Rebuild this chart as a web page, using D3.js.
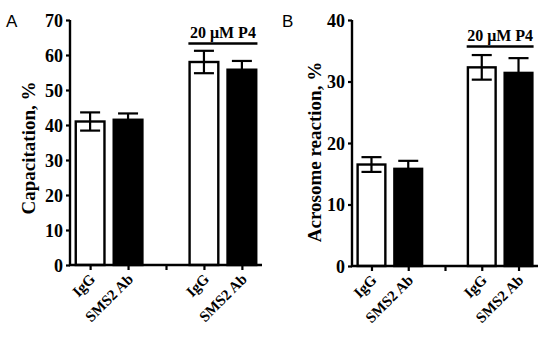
<!DOCTYPE html>
<html>
<head>
<meta charset="utf-8">
<script src="https://cdn.jsdelivr.net/npm/d3@7"></script>
<style>
  body { margin: 0; background: #fff; }
  svg text { font-family: "Liberation Serif", "Times New Roman", serif; font-weight: bold; fill: #000; }
</style>
</head>
<body>
<svg id="chart" width="550" height="340"></svg>
<script>
// data
var categories = ["IgG", "SMS2 Ab", "IgG", "SMS2 Ab"];
var slots = ["c0", "c1", "gap", "c2", "c3"];   // middle tick is the blank gap
var barFill = ["#fff", "#000", "#fff", "#000"];
var capacitation = [41.0, 41.5, 58.0, 55.8];
var capacitationErr = [2.6, 1.8, 3.2, 2.5];
var acrosome = [16.5, 15.8, 32.3, 31.4];
var acrosomeErr = [1.2, 1.3, 2.0, 2.4];
var capTicks = [0, 10, 20, 30, 40, 50, 60, 70];
var acrTicks = [0, 10, 20, 30, 40];

var svg = d3.select("#chart");

function drawPanel(opt) {
    var g = svg.append("g");
    var x = d3.scalePoint().domain(slots).range([opt.x0, opt.x1]).padding(0.53);
    var y = d3.scaleLinear().domain([0, opt.ymax]).range([opt.y0, opt.y1]);
    var bw = x.step() * 0.82;

    var rows = categories.map(function (c, i) {
        return { label: c, v: opt.values[i], e: opt.errs[i], fill: barFill[i], slot: "c" + i };
    });

    g.selectAll(".bar").data(rows).join("rect").attr("class", "bar")
        .attr("x", d => x(d.slot) - bw / 2 + 1.2)
        .attr("width", bw - 2.4)
        .attr("y", d => y(d.v))
        .attr("height", d => y(0) - y(d.v))
        .attr("fill", d => d.fill)
        .attr("stroke", "#000").attr("stroke-width", 2.4);

    // upper whisker on every bar
    var eb = g.selectAll(".err").data(rows).join("g").attr("class", "err");
    eb.append("line")
        .attr("x1", d => x(d.slot)).attr("x2", d => x(d.slot))
        .attr("y1", d => y(d.v)).attr("y2", d => y(d.v + d.e))
        .attr("stroke", "#000").attr("stroke-width", 2.2);
    eb.append("line")
        .attr("x1", d => x(d.slot) - 10).attr("x2", d => x(d.slot) + 10)
        .attr("y1", d => y(d.v + d.e)).attr("y2", d => y(d.v + d.e))
        .attr("stroke", "#000").attr("stroke-width", 2.2);
    // lower whisker only visible inside white bars
    g.selectAll(".errlow").data(rows.filter(d => d.fill == "#fff")).join("g").attr("class", "errlow")
        .each(function (d) {
            var s = d3.select(this);
            s.append("line").attr("x1", x(d.slot)).attr("x2", x(d.slot))
                .attr("y1", y(d.v)).attr("y2", y(d.v - d.e))
                .attr("stroke", "#000").attr("stroke-width", 2.2);
            s.append("line").attr("x1", x(d.slot) - 10).attr("x2", x(d.slot) + 10)
                .attr("y1", y(d.v - d.e)).attr("y2", y(d.v - d.e))
                .attr("stroke", "#000").attr("stroke-width", 2.2);
        });

    // y axis
    var ya = g.append("g").attr("transform", "translate(" + opt.x0 + ",0)")
        .call(d3.axisLeft(y).tickValues(opt.ticks).tickSize(4).tickPadding(3).tickSizeOuter(0));
    ya.select(".domain").attr("stroke-width", 2.4).attr("d", "M0," + (y(0) + 1) + "V" + y(opt.ymax));
    ya.selectAll(".tick line").attr("stroke-width", 2.2);
    ya.selectAll(".tick text").style("font-family", "Liberation Serif").style("font-weight", "bold")
        .style("font-size", "18px").attr("dy", "0.34em");

    // x axis
    var xa = g.append("g").attr("transform", "translate(0," + y(0) + ")")
        .call(d3.axisBottom(x).tickSize(5).tickSizeOuter(0).tickFormat(""));
    xa.select(".domain").attr("stroke-width", 2.4).attr("d", "M" + (opt.x0 - 1) + ",0H" + opt.x1);
    xa.selectAll(".tick line").attr("stroke-width", 2.2);

    g.selectAll(".xlab").data(rows).join("text").attr("class", "xlab")
        .attr("transform", d => "translate(" + (x(d.slot) + 6) + "," + (y(0) + 15) + ") rotate(-45)")
        .attr("text-anchor", "end")
        .style("font-size", "15px")
        .text(d => d.label);

    // y title
    g.append("text")
        .attr("transform", "translate(" + opt.titleX + "," + opt.titleY + ") rotate(-90)")
        .attr("text-anchor", "middle")
        .style("font-size", "19px")
        .text(opt.title);

    // P4 bracket
    var bx0 = x("c2") - bw / 2, bx1 = x("c3") + bw / 2;
    g.append("line").attr("x1", bx0).attr("x2", bx1).attr("y1", opt.bracketY).attr("y2", opt.bracketY)
        .attr("stroke", "#000").attr("stroke-width", 2.6);
    g.append("text").attr("x", (bx0 + bx1) / 2).attr("y", opt.bracketY - 6)
        .attr("text-anchor", "middle").style("font-size", "16px").text("20 \u03bcM P4");

    // panel letter
    g.append("text").attr("x", opt.letterX).attr("y", 27)
        .style("font-family", "Liberation Sans, Arial, sans-serif").style("font-weight", "normal")
        .style("font-size", "17px").text(opt.letter);
}

drawPanel({
    x0: 70, x1: 262, y0: 265, y1: 20, ymax: 70,
    values: capacitation, errs: capacitationErr, ticks: capTicks,
    title: "Capacitation, %", titleX: 35, titleY: 148, bracketY: 43.5, letter: "A", letterX: 6
});
drawPanel({
    x0: 352, x1: 538, y0: 266, y1: 20, ymax: 40,
    values: acrosome, errs: acrosomeErr, ticks: acrTicks,
    title: "Acrosome reaction, %", titleX: 321, titleY: 152, bracketY: 46.5, letter: "B", letterX: 282
});
</script>
</body>
</html>
